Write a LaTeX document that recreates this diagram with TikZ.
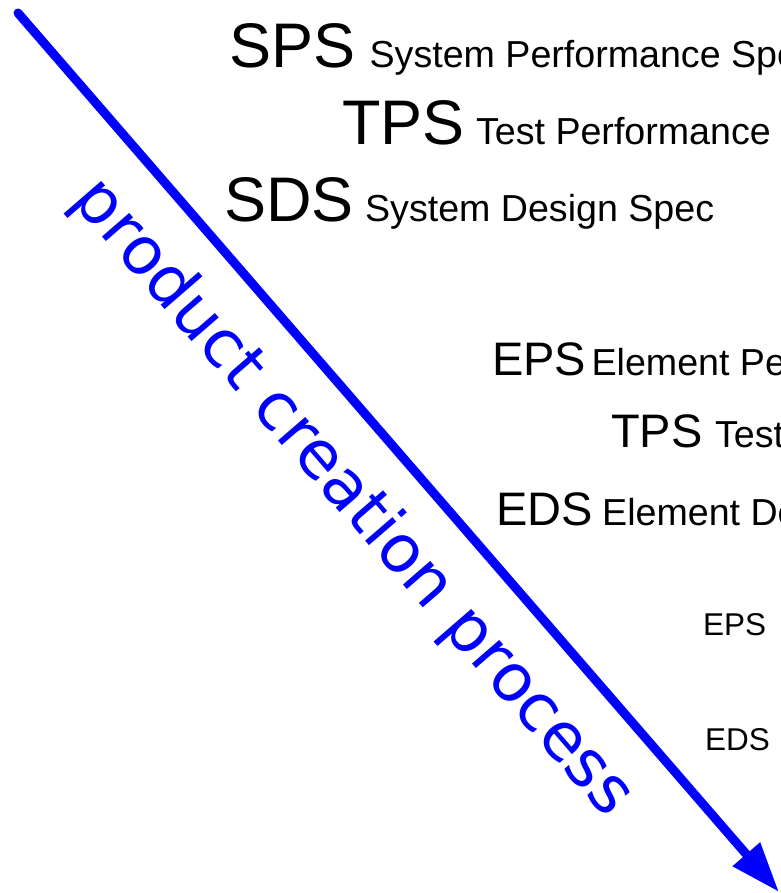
\documentclass[tikz,border=0pt]{standalone}
\usepackage{fontspec}
\setmainfont{Liberation Sans}
\newfontfamily\processfont{DejaVu Sans}
\usetikzlibrary{arrows.meta,positioning,calc}

\newcommand{\pxfont}[1]{\fontsize{#1}{#1}\selectfont}

\begin{document}
\begin{tikzpicture}[x=1pt, y=-1pt,
    abbr/.style={inner sep=0pt, anchor=base west},
    desc/.style={inner sep=0pt, anchor=base west, font=\pxfont{37.6}},
    process/.style={draw=blue, line width=9pt, line cap=round, -{Triangle[length=50pt, width=34pt]}}]

    \useasboundingbox (0,0) rectangle (780,893);
    \clip (0,0) rectangle (780,893);

    % System level
    \node[abbr, font=\pxfont{63}] (sps) at (229,68) {SPS};
    \node[right=14pt of sps.base east, desc] (spsd) {System Performance Spec};
    \node[abbr, font=\pxfont{63}] (tps) at (342,145) {TPS};
    \node[right=11pt of tps.base east, desc] (tpsd) {Test Performance Spec};
    \node[abbr, font=\pxfont{63}] (sds) at (224,222) {SDS};
    \node[right=11pt of sds.base east, desc] (sdsd) {System Design Spec};

    % Element level
    \node[abbr, font=\pxfont{47}] (eps) at (492,375) {EPS};
    \node[right=5pt of eps.base east, desc] (epsd) {Element Performance Spec};
    \node[abbr, font=\pxfont{47}] (etps) at (611,447) {TPS};
    \node[right=12pt of etps.base east, desc] (etpsd) {Test Performance Spec};
    \node[abbr, font=\pxfont{47}] (eds) at (496,525) {EDS};
    \node[right=9pt of eds.base east, desc] (edsd) {Element Design Spec};

    % Sub-element level
    \node[abbr, font=\pxfont{31.5}] (seps) at (703,635) {EPS};
    \node[abbr, font=\pxfont{31.5}] (seds) at (705,750) {EDS};

    % Process arrow
    \coordinate (start) at (18,13);
    \coordinate (finish) at (779,892);
    \coordinate (labelpos) at ($(start)!0.504!(finish)!83pt!-90:(finish)$);
    \draw[process] (start) -- (finish);
    \node[rotate=-49.1, anchor=base, inner sep=0pt, text=blue, font=\processfont\pxfont{66}] (label) at (labelpos) {product creation process};

\end{tikzpicture}
\end{document}
